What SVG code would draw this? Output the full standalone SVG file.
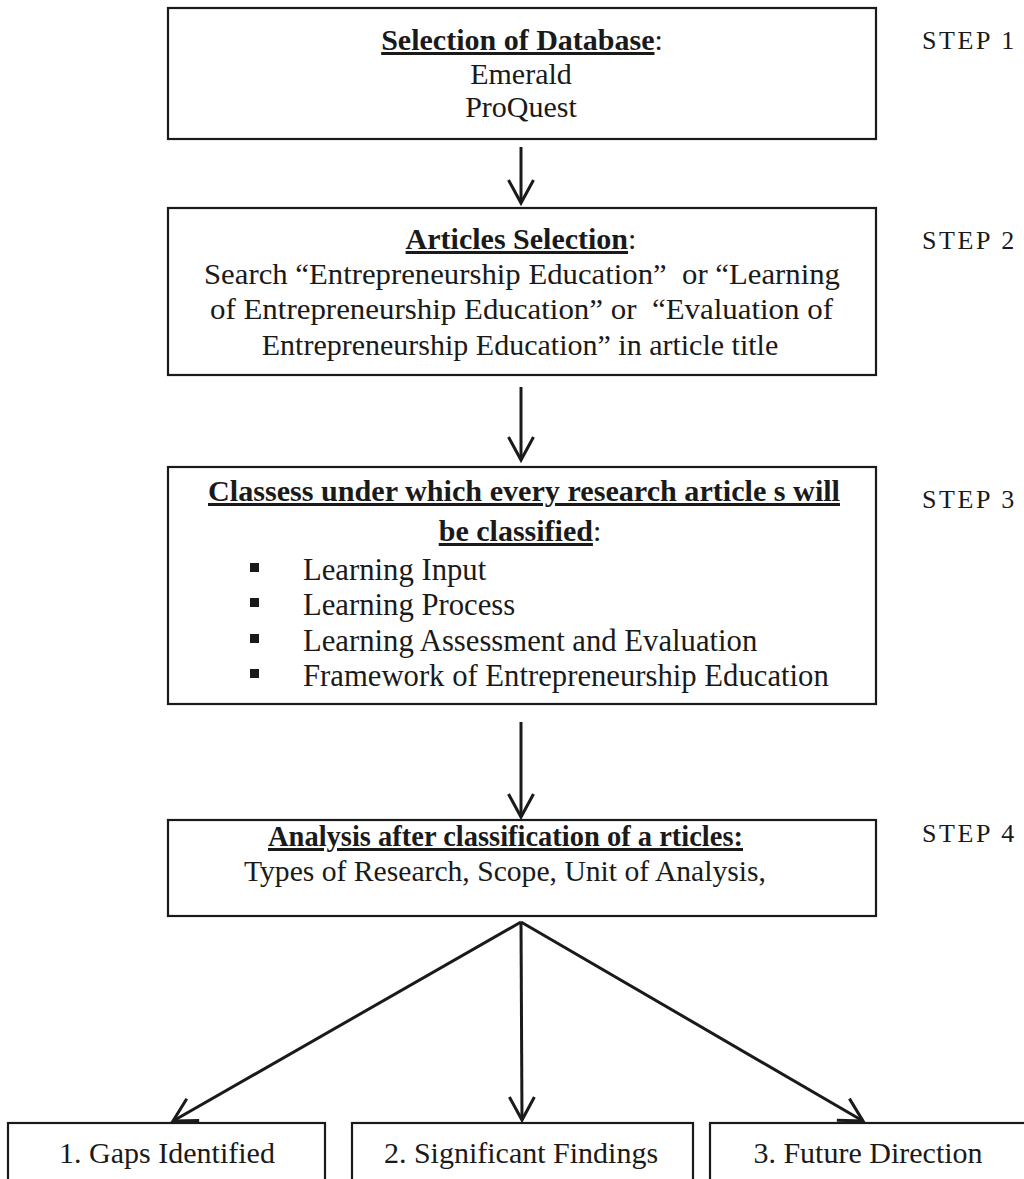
<svg xmlns="http://www.w3.org/2000/svg" width="1024" height="1179" viewBox="0 0 1024 1179">
<style>
.box{fill:#fff;stroke:#1a1a1a;stroke-width:2.2}
.t{font-family:"Liberation Serif","Times New Roman",serif;font-size:30px;fill:#1a1a1a}
.li{font-size:30.7px}
.c{text-anchor:middle}
.b{font-weight:bold}
.u{text-decoration:underline}
.step{font-family:"Liberation Serif","Times New Roman",serif;font-size:26px;letter-spacing:2.6px;fill:#1a1a1a}
.con{stroke:#1a1a1a;stroke-width:3;fill:none}
.bul{fill:#1a1a1a}
</style>
<defs>
<marker id="arr" markerUnits="userSpaceOnUse" viewBox="-26 -15 30 30" markerWidth="30" markerHeight="30" refX="0" refY="0" orient="auto">
<path d="M-23,-12.5 L0,0 L-23,12.5" fill="none" stroke="#1a1a1a" stroke-width="3" stroke-linejoin="miter"/>
</marker>
</defs>
<rect width="1024" height="1179" fill="#fff"/>

<g id="step1">
<rect class="box" x="168" y="8" width="708" height="131"/>
<text class="t c" x="522" y="50"><tspan class="b u">Selection of Database</tspan>:</text>
<text class="t c" x="521" y="84">Emerald</text>
<text class="t c" x="521" y="117">ProQuest</text>
</g>

<g id="step2">
<rect class="box" x="168" y="208" width="708" height="167"/>
<text class="t c" x="521" y="249"><tspan class="b u">Articles Selection</tspan>:</text>
<text class="t" x="204" y="284" textLength="636" lengthAdjust="spacingAndGlyphs" xml:space="preserve">Search “Entrepreneurship Education”  or “Learning</text>
<text class="t" x="210" y="319" textLength="623" lengthAdjust="spacingAndGlyphs" xml:space="preserve">of Entrepreneurship Education” or  “Evaluation of</text>
<text class="t c" x="520" y="355">Entrepreneurship Education” in article title</text>
</g>

<g id="step3">
<rect class="box" x="168" y="467" width="708" height="237"/>
<text class="t b u" x="208" y="501" textLength="632" lengthAdjust="spacingAndGlyphs">Classess under which every research article s will</text>
<text class="t c" x="520" y="541"><tspan class="b u">be classified</tspan>:</text>
<rect class="bul" x="250" y="563" width="9" height="9"/>
<rect class="bul" x="250" y="598" width="9" height="9"/>
<rect class="bul" x="250" y="634" width="9" height="9"/>
<rect class="bul" x="250" y="669" width="9" height="9"/>
<text class="t li" x="303" y="580">Learning Input</text>
<text class="t li" x="303" y="615">Learning Process</text>
<text class="t li" x="303" y="651">Learning Assessment and Evaluation</text>
<text class="t li" x="303" y="686">Framework of Entrepreneurship Education</text>
</g>

<g id="step4">
<rect class="box" x="168" y="820" width="708" height="96"/>
<text class="t b u" x="268" y="846" textLength="475" lengthAdjust="spacingAndGlyphs">Analysis after classification of a rticles:</text>
<text class="t" x="244" y="881" textLength="522" lengthAdjust="spacingAndGlyphs">Types of Research, Scope, Unit of Analysis,</text>
</g>

<g id="gaps">
<rect class="box" x="8" y="1123" width="317" height="70"/>
<text class="t c" x="167" y="1163">1. Gaps Identified</text>
</g>
<g id="findings">
<rect class="box" x="352" y="1123" width="341" height="70"/>
<text class="t c" x="521" y="1163">2. Significant Findings</text>
</g>
<g id="future">
<rect class="box" x="710" y="1123" width="330" height="70"/>
<text class="t c" x="868" y="1163">3. Future Direction</text>
</g>

<g id="labels">
<text class="step" x="922" y="49">STEP 1</text>
<text class="step" x="922" y="249">STEP 2</text>
<text class="step" x="922" y="508">STEP 3</text>
<text class="step" x="922" y="842">STEP 4</text>
</g>

<g id="connectors">
<line class="con" x1="521" y1="147" x2="521" y2="203" marker-end="url(#arr)"/>
<line class="con" x1="521" y1="387" x2="521" y2="460" marker-end="url(#arr)"/>
<line class="con" x1="521" y1="722" x2="521" y2="817" marker-end="url(#arr)"/>
<line class="con" x1="521" y1="922" x2="173" y2="1121" marker-end="url(#arr)"/>
<line class="con" x1="521" y1="922" x2="522" y2="1120" marker-end="url(#arr)"/>
<line class="con" x1="521" y1="922" x2="863" y2="1121" marker-end="url(#arr)"/>
</g>
</svg>
